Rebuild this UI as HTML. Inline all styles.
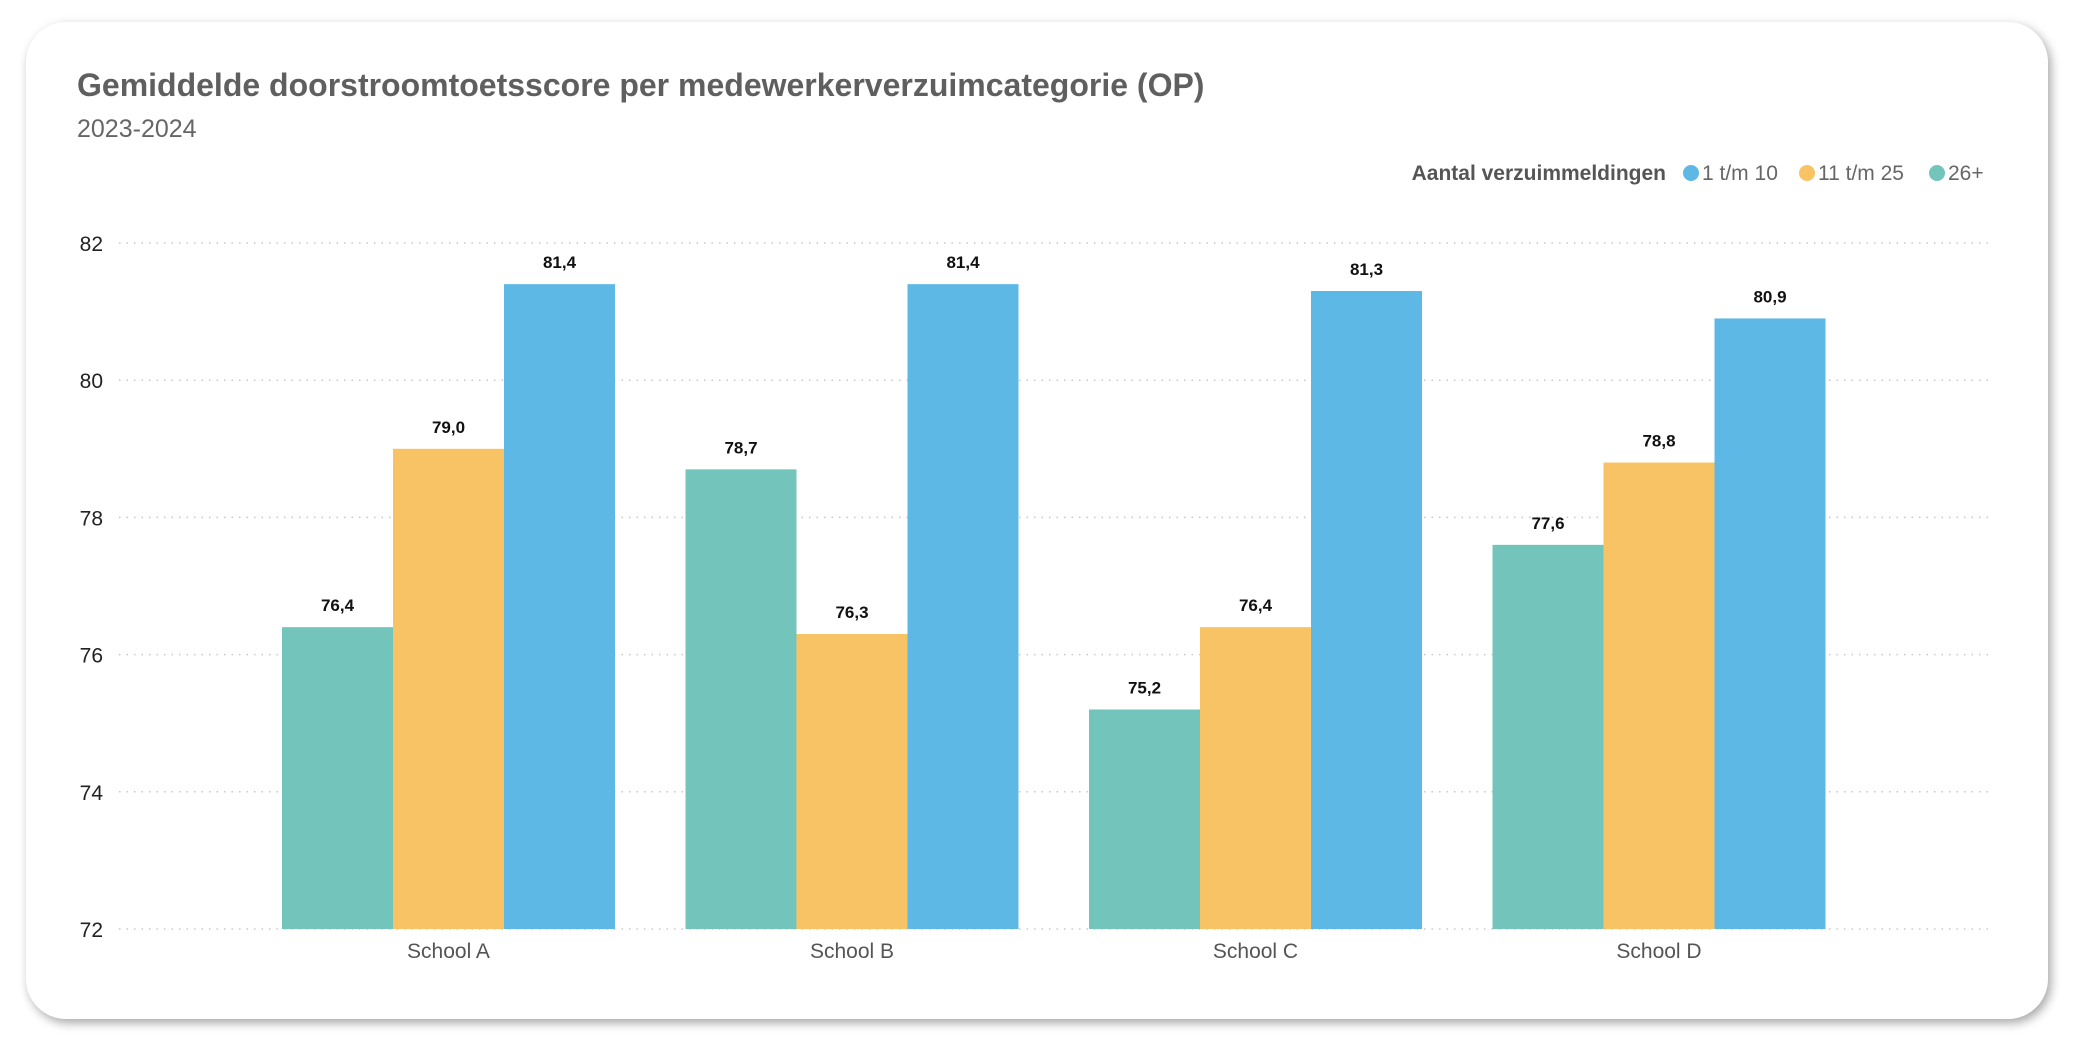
<!DOCTYPE html>
<html><head><meta charset="utf-8"><style>
body{margin:0;width:2075px;height:1042px;background:#fff;overflow:hidden;font-family:"Liberation Sans",sans-serif}
#card{position:absolute;left:26px;top:22px;width:2022px;height:997px;background:#fff;border-radius:40px;box-shadow:3px 4px 10px rgba(0,0,0,0.35)}
svg{position:absolute;left:0;top:0}
</style></head><body>
<div id="card"></div>
<svg id="chart" width="2075" height="1042">
<text x="77" y="96" font-size="32" font-weight="bold" fill="#5f5f5f">Gemiddelde doorstroomtoetsscore per medewerkerverzuimcategorie (OP)</text>
<text x="77" y="137" font-size="25" fill="#666">2023-2024</text>
<g>
<text x="1666" y="180" font-size="21" font-weight="bold" fill="#555" text-anchor="end">Aantal verzuimmeldingen</text>
<circle cx="1691" cy="173" r="8" fill="#5EB8E5"/>
<text x="1702" y="180" font-size="21" fill="#666">1 t/m 10</text>
<circle cx="1807" cy="173" r="8" fill="#F8C365"/>
<text x="1818" y="180" font-size="21" fill="#666">11 t/m 25</text>
<circle cx="1937" cy="173" r="8" fill="#73C4BA"/>
<text x="1948" y="180" font-size="21" fill="#666">26+</text>
</g>
<g id="grid"></g><g id="bars"></g>
</svg>
<script>
const categories=["School A","School B","School C","School D"];
const seriesNames=["26+","11 t/m 25","1 t/m 10"];
const teal=[76.4,78.7,75.2,77.6];
const orange=[79.0,76.3,76.4,78.8];
const blue=[81.4,81.4,81.3,80.9];
const yTicks=[72,74,76,78,80,82];
const colors=["#73C4BA","#F8C365","#5EB8E5"];
const NS="http://www.w3.org/2000/svg";
const yMin=72,yMax=82,yBottom=929,yTop=243;
function y(v){return yBottom-(v-yMin)/(yMax-yMin)*(yBottom-yTop);}
const bandStart=246.75,bandW=403.5,barW=111;
function x(i,s){return bandStart+i*bandW+bandW/2-1.5*barW+s*barW;}
function mk(t,a,p){const e=document.createElementNS(NS,t);for(const k in a)e.setAttribute(k,a[k]);p.appendChild(e);return e;}
const grid=document.getElementById('grid');
yTicks.forEach(t=>{
  const l=mk('line',{x1:119,x2:1991,y1:y(t),y2:y(t),stroke:'#c8c8c8','stroke-width':1.5,'stroke-dasharray':'1.5 6'},grid);
  
  
  const tx=mk('text',{x:103,y:y(t)+8,'font-size':21,'text-anchor':'end',fill:'#222'},grid);
  tx.textContent=t;
  
  
});
const bars=document.getElementById('bars');
const series=[teal,orange,blue];
categories.forEach((c,i)=>{
  series.forEach((arr,s)=>{
    const v=arr[i];
    const r=mk('rect',{x:x(i,s),y:y(v),width:barW,height:yBottom-y(v),fill:colors[s]},bars);
    
    
    const t=mk('text',{x:x(i,s)+barW/2,y:y(v)-16,'font-size':17,'font-weight':'bold','text-anchor':'middle',fill:'#111'},bars);
    t.textContent=v.toFixed(1).replace('.',',');
    
    
  });
  const xl=mk('text',{x:bandStart+i*bandW+bandW/2,y:958,'font-size':21,'text-anchor':'middle',fill:'#555'},bars);
  xl.textContent=c;
  
  
});
</script>
</body></html>
